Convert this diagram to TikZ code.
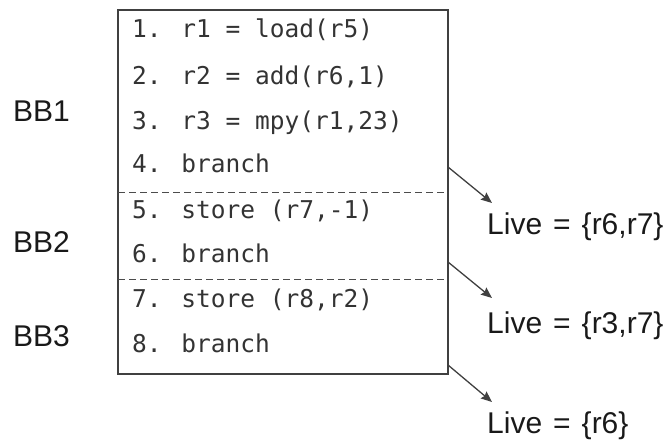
\documentclass[tikz,border=0pt]{standalone}
\usepackage{fontspec}
\setmainfont{Liberation Sans}
\newfontfamily\codefont{DejaVu Sans Mono}
\usetikzlibrary{arrows.meta}

\begin{document}
\begin{tikzpicture}[x=1pt, y=-1pt,
		codeline/.style={anchor=base west, inner sep=0, text=black!80, font=\codefont\fontsize{24.5}{26}\selectfont},
		bblabel/.style={anchor=base west, inner sep=0, text=black!90, font=\fontsize{30}{32}\selectfont},
		livelabel/.style={anchor=base west, inner sep=0, text=black!90, font=\fontsize{30}{32}\selectfont},
		livearrow/.style={draw=black!75, line width=1.3pt, -{Stealth[length=11pt, width=9pt, inset=1.5pt]}},
		sepline/.style={draw=black!70, line width=1pt, dash pattern=on 7pt off 4pt}]
			%%%%% START %%%%%
			
			\useasboundingbox (0, 0) rectangle (672, 441);
			
			\draw[line width=1.5pt, draw=black!75] (118, 10) rectangle (448, 374);
			\draw[sepline] (118, 192) -- (448, 192);
			\draw[sepline] (118, 279) -- (448, 279);
			
			\node[codeline] (l1) at (132, 38) {1. r1 = load(r5)};
			\node[codeline] (l2) at (132, 85) {2. r2 = add(r6,1)};
			\node[codeline] (l3) at (132, 130) {3. r3 = mpy(r1,23)};
			\node[codeline] (l4) at (132, 172) {4. branch};
			\node[codeline] (l5) at (132, 218) {5. store (r7,-1)};
			\node[codeline] (l6) at (132, 262) {6. branch};
			\node[codeline] (l7) at (132, 307) {7. store (r8,r2)};
			\node[codeline] (l8) at (132, 352) {8. branch};
			
			\node[bblabel] (bb1) at (13, 122) {BB1};
			\node[bblabel] (bb2) at (13, 252) {BB2};
			\node[bblabel] (bb3) at (13, 346) {BB3};
			
			\node[livelabel] (live1) at (487, 234) {Live\hspace{11pt}=\hspace{11pt}\{r6,r7\}};
			\node[livelabel] (live2) at (487, 333) {Live\hspace{11pt}=\hspace{11pt}\{r3,r7\}};
			\node[livelabel] (live3) at (487, 433) {Live\hspace{11pt}=\hspace{11pt}\{r6\}};
			
			\coordinate (out1) at (448, 167);
			\coordinate (out2) at (448, 262);
			\coordinate (out3) at (448, 365);
			\draw[livearrow] (out1) -- ([shift={(5, -31)}]live1.base west);
			\draw[livearrow] (out2) -- ([shift={(5, -35)}]live2.base west);
			\draw[livearrow] (out3) -- ([shift={(5, -31)}]live3.base west);
			
			%%%%% END %%%%%
\end{tikzpicture}
\end{document}
